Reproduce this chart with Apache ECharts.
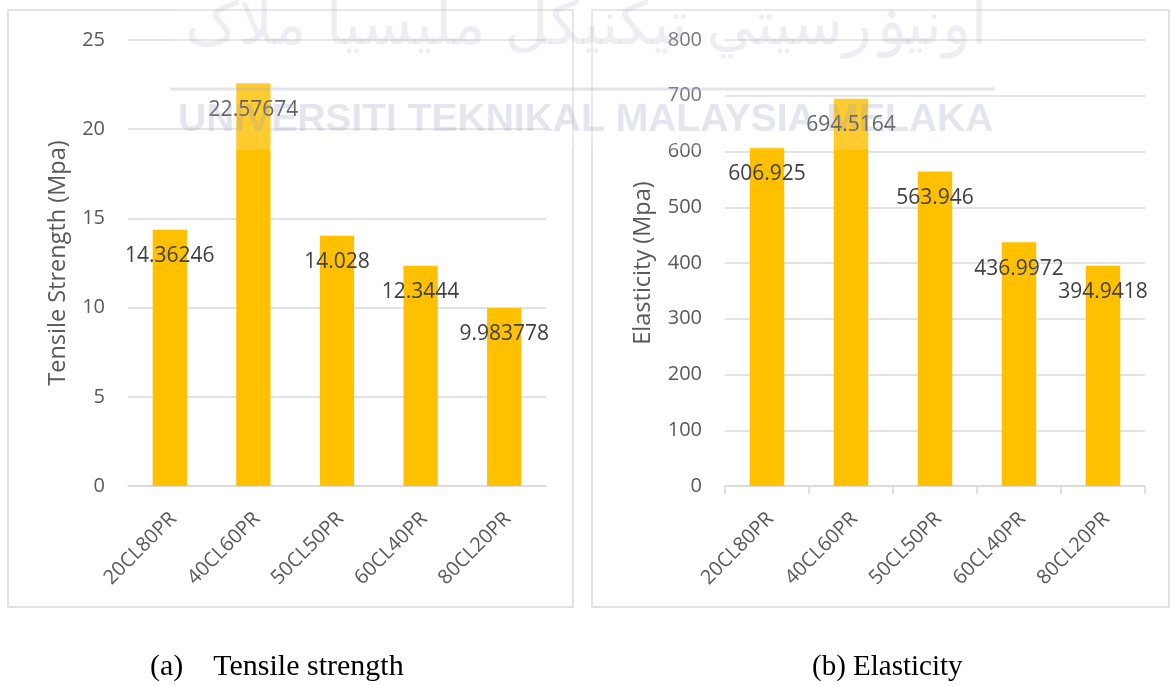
<!DOCTYPE html>
<html>
<head>
<meta charset="utf-8">
<script src="https://cdn.jsdelivr.net/npm/echarts@6/dist/echarts.min.js"></script>
<style>
  html, body { margin: 0; padding: 0; background: #fff; }
  #chart { width: 1171px; height: 686px; }
</style>
</head>
<body>
<div id="chart"></div>
<script>
// data
var categories = ["20CL80PR", "40CL60PR", "50CL50PR", "60CL40PR", "80CL20PR"];
var tensileValues = [14.36246, 22.57674, 14.028, 12.3444, 9.983778];
var elasticityValues = [606.925, 694.5164, 563.946, 436.9972, 394.9418];
var tensileTicks = { min: 0, max: 25, interval: 5 };
var elasticityTicks = { min: 0, max: 800, interval: 100 };

var font = "'Open Sans', sans-serif";
var serif = "'Liberation Serif', 'Times New Roman', serif";
var grey = "#d9d9d9";

function valueAxis(idx, ticks, name, gap) {
  return {
    type: "value",
    gridIndex: idx,
    min: ticks.min,
    max: ticks.max,
    interval: ticks.interval,
    name: name,
    nameLocation: "middle",
    nameGap: gap,
    nameTextStyle: { color: "#595959", fontSize: 23.5, fontFamily: font },
    axisLine: { show: false },
    axisTick: { show: false },
    axisLabel: { color: "#595959", fontSize: 20, fontFamily: font, margin: 23 },
    splitLine: { lineStyle: { color: grey, width: 1.5 } }
  };
}

function catAxis(idx, ticks) {
  return {
    type: "category",
    gridIndex: idx,
    data: categories,
    axisLine: { lineStyle: { color: grey, width: 1.5 } },
    axisTick: { show: ticks, length: 8, lineStyle: { color: grey, width: 1.5 } },
    axisLabel: {
      color: "#595959", fontSize: 20, fontFamily: font, rotate: 45,
      margin: 12, verticalAlign: "top", padding: [5, 10, 0, 0]
    }
  };
}

function barSeries(idx, values) {
  return {
    type: "bar",
    xAxisIndex: idx,
    yAxisIndex: idx,
    data: values,
    barWidth: "41%",
    itemStyle: { color: "#FFC000" },
    label: {
      show: true,
      position: "insideTop",
      distance: 16,
      color: "#404040",
      fontSize: 21,
      fontFamily: font
    }
  };
}

var myChart = echarts.init(document.getElementById("chart"));
var option = {
  animation: false,
  grid: [
    { left: 128, right: 625, top: 40, bottom: 200 },
    { left: 725, right: 26, top: 40, bottom: 200 }
  ],
  xAxis: [catAxis(0, false), catAxis(1, true)],
  yAxis: [
    valueAxis(0, tensileTicks, "Tensile Strength (Mpa)", 58),
    valueAxis(1, elasticityTicks, "Elasticity (Mpa)", 70)
  ],
  series: [barSeries(0, tensileValues), barSeries(1, elasticityValues)],
  graphic: [
    // panel borders
    { type: "rect", z: -1, shape: { x: 8, y: 10, width: 565, height: 597 },
      style: { fill: null, stroke: grey, lineWidth: 1.5 } },
    { type: "rect", z: -1, shape: { x: 592, y: 10, width: 577, height: 597 },
      style: { fill: null, stroke: grey, lineWidth: 1.5 } },
    // watermark
    { type: "rect", z: 100, shape: { x: 170, y: 0, width: 830, height: 150 },
      style: { fill: "rgba(255,255,255,0.18)" } },
    { type: "line", z: 100, shape: { x1: 170, y1: 89, x2: 995, y2: 89 },
      style: { stroke: "rgba(160,170,200,0.3)", lineWidth: 3 } },
    { type: "text", z: 100, left: 178, top: 101,
      style: { text: "UNIVERSITI TEKNIKAL MALAYSIA MELAKA", fill: "rgba(150,160,195,0.26)",
        fontSize: 39, fontWeight: "bold", fontFamily: "'Liberation Sans', Arial, sans-serif" } },
    { type: "text", z: 100, left: 185, top: -2,
      style: { text: "اونيۏرسيتي تيكنيكل مليسيا ملاک", fill: "rgba(160,170,200,0.2)",
        fontSize: 60, fontFamily: "'DejaVu Sans', sans-serif" } },
    // captions
    { type: "text", x: 150, y: 667,
      style: { text: "(a)    Tensile strength", fill: "#000", fontSize: 30,
        verticalAlign: "middle", fontFamily: serif } },
    { type: "text", x: 812, y: 667,
      style: { text: "(b) Elasticity", fill: "#000", fontSize: 29,
        verticalAlign: "middle", fontFamily: serif } }
  ]
};
myChart.setOption(option);
</script>
</body>
</html>
